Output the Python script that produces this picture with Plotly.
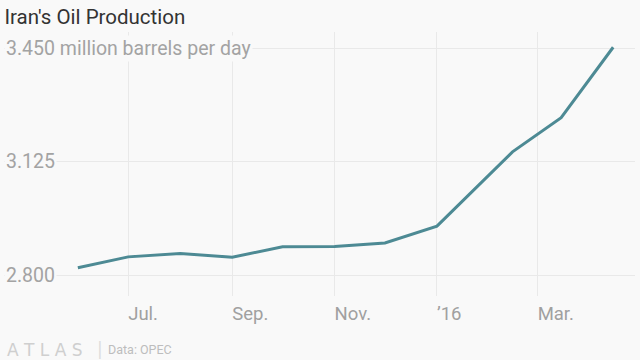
import plotly.graph_objects as go

dates = ["2015-06-01", "2015-07-01", "2015-08-01", "2015-09-01", "2015-10-01",
         "2015-11-01", "2015-12-01", "2016-01-01", "2016-02-15", "2016-03-15",
         "2016-04-15"]
production = [2.821, 2.852, 2.862, 2.851, 2.881, 2.882, 2.892, 2.940, 3.153, 3.251, 3.453]

x_tickvals = ["2015-07-01", "2015-09-01", "2015-11-01", "2016-01-01", "2016-03-01"]
x_ticktext = ["Jul.", "Sep.", "Nov.", "\u201916", "Mar."]
y_tickvals = [2.800, 3.125, 3.450]
y_ticktext = ["2.800", "3.125", "3.450 million barrels per day"]

BG = "#f9f9f9"

fig = go.Figure()
fig.add_trace(go.Scatter(
    x=dates, y=production, mode="lines",
    line=dict(color="#4d8a94", width=3),
    hoverinfo="skip", showlegend=False,
))

fig.update_layout(
    width=640, height=360,
    paper_bgcolor=BG, plot_bgcolor=BG,
    margin=dict(l=4, r=5, t=32, b=64, autoexpand=False),
    title=dict(text="Iran's Oil Production", xref="container", x=0.007, xanchor="left",
               yref="container", y=0.972, yanchor="top",
               font=dict(family="Roboto", size=20.5, color="#333333")),
    xaxis=dict(
        type="date", range=["2015-04-18", "2016-04-28"],
        tickvals=x_tickvals, ticktext=x_ticktext,
        ticklabelposition="outside right",
        ticklabelstandoff=4,
        showgrid=True, gridcolor="#e9e9e9", gridwidth=1,
        zeroline=False, showline=False, ticks="",
        tickfont=dict(family="Roboto", size=18.5, color="#a0a0a0"),
        automargin=False, fixedrange=True,
    ),
    yaxis=dict(
        range=[2.7398, 3.4967],
        tickvals=y_tickvals, showticklabels=False,
        showgrid=True, gridcolor="#e9e9e9", gridwidth=1,
        zeroline=False, showline=False, ticks="",
        automargin=False, fixedrange=True,
    ),
)

for v, t in zip(y_tickvals, y_ticktext):
    fig.add_annotation(
        x=0, xref="paper", xanchor="left", y=v, yref="y", yanchor="middle",
        text=t, showarrow=False, bgcolor=BG, borderpad=1,
        font=dict(family="Roboto", size=19.5, color="#a3a3a3"),
    )

fig.add_annotation(
    x=0.002, xref="paper", xanchor="left", y=-0.203, yref="paper", yanchor="middle",
    text="A T L A S",
    showarrow=False,
    font=dict(family="DejaVu Sans", size=17, color="#cfcfcf"),
)
fig.add_annotation(
    x=0.146, xref="paper", xanchor="left", y=-0.2, yref="paper", yanchor="middle",
    text="|",
    showarrow=False, borderpad=0,
    font=dict(family="DejaVu Sans", size=17, color="#dddddd"),
)
fig.add_annotation(
    x=0.162, xref="paper", xanchor="left", y=-0.203, yref="paper", yanchor="middle",
    text="Data: OPEC",
    showarrow=False,
    font=dict(family="Roboto", size=12.5, color="#bdbdbd"),
)

fig.write_html(
    "out.html",
    config={"displayModeBar": False},
    post_script="document.body.style.margin='0';document.body.style.background='#f9f9f9';",
)
